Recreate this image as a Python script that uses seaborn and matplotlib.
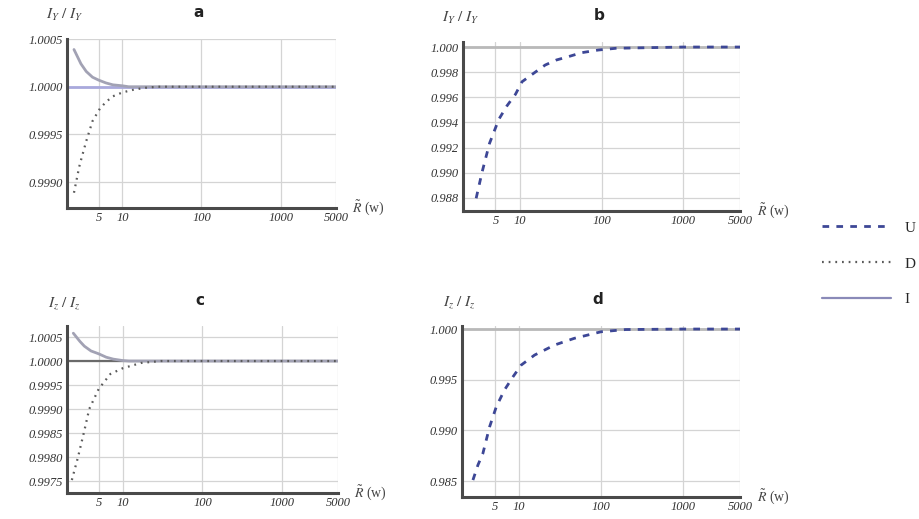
import matplotlib
matplotlib.use("Agg")
import matplotlib.pyplot as plt
import seaborn as sns
from matplotlib.lines import Line2D
from matplotlib.ticker import FixedLocator, FixedFormatter

sns.set_theme(style="white")
plt.rcParams["font.family"] = ["Liberation Serif", "DejaVu Serif"]
plt.rcParams["mathtext.fontset"] = "stix"

# ---- series data (R in units of w) ----
# panel a: I_Y ratio
a_dot_R = [2.45, 2.85, 3.0, 3.5, 4.2, 5.2, 6.2, 7.6, 10, 14, 20, 28, 100, 1000, 5000]
a_dot_v = [0.99889, 0.99916, 0.99923, 0.99943, 0.99964, 0.99977, 0.99984, 0.99990,
           0.99994, 0.99997, 0.99999, 1.00000, 1.00000, 1.00000, 1.00000]
a_sol_R = [2.45, 3.0, 3.5, 4.2, 5.0, 6.2, 7.6, 10, 12, 100, 1000, 5000]
a_sol_v = [1.00039, 1.00024, 1.00016, 1.00010, 1.00007, 1.00004, 1.00002, 1.00001,
           1.00000, 1.00000, 1.00000, 1.00000]

# panel b: I_Y ratio (dashed series)
b_R = [2.9, 3.19, 3.44, 4.23, 5.5, 6.9, 8.8, 10.6, 14.7, 20.4, 28, 39, 57, 91, 150, 1000, 5000]
b_v = [0.98797, 0.98916, 0.99009, 0.99234, 0.99425, 0.99531, 0.99624, 0.99724,
       0.99791, 0.99857, 0.99897, 0.99923, 0.99955, 0.99976, 0.99990, 1.00000, 1.00000]

# panel c: I_z ratio
c_dot_R = [2.3, 2.75, 3.3, 3.8, 5.0, 7.0, 10, 17, 30, 100, 1000, 5000]
c_dot_v = [0.99752, 0.99800, 0.99855, 0.99900, 0.99942, 0.99973, 0.99985, 0.99996,
           1.00000, 1.00000, 1.00000, 1.00000]
c_sol_R = [2.4, 2.9, 3.3, 4.0, 5.0, 6.2, 7.6, 10, 12, 100, 1000, 5000]
c_sol_v = [1.00058, 1.00041, 1.00031, 1.00021, 1.00015, 1.00008, 1.00004, 1.00001,
           1.00000, 1.00000, 1.00000, 1.00000]

# panel d: I_z ratio (dashed series)
d_R = [2.72, 3.13, 3.6, 4.35, 5.25, 6.6, 8.4, 10.6, 15.4, 27, 47, 100, 200, 1000, 5000]
d_v = [0.98510, 0.98658, 0.98773, 0.99036, 0.99233, 0.99398, 0.99529, 0.99645,
       0.99743, 0.99842, 0.99908, 0.99973, 0.99995, 1.00000, 1.00000]

x_ticks = [5, 10, 100, 1000, 5000]
x_labels = ["5", "10", "100", "1000", "5000"]
legend_labels = ["U", "D", "I"]

DASH_C = "#3d4796"
DOT_C = "#5a5a5a"
SOL_C = "#a2a2b4"
LEG_SOL_C = "#8a8ab8"
SPINE_C = "#4a4a4a"
GRID_C = "#d4d4d4"

fig = plt.figure(figsize=(9.2, 5.19), dpi=100)
W, H = 920, 519


def make_ax(l, r, t, b):
    return fig.add_axes([l / W, 1 - b / H, (r - l) / W, (b - t) / H])


def style_ax(ax, ylim, yticks, yfmt, one_color, one_lw):
    ax.set_xscale("log")
    ax.set_xlim(2.0, 5000)
    ax.set_ylim(*ylim)
    ax.xaxis.set_major_locator(FixedLocator(x_ticks))
    ax.xaxis.set_major_formatter(FixedFormatter(x_labels))
    ax.xaxis.set_minor_locator(FixedLocator([]))
    ax.set_yticks(yticks)
    ax.set_yticklabels([yfmt.format(v) for v in yticks])
    ax.tick_params(axis="both", length=0, labelsize=9, colors="#333333", pad=3)
    for lab in ax.get_xticklabels() + ax.get_yticklabels():
        lab.set_fontstyle("italic")
    ax.grid(True, color=GRID_C, lw=0.9)
    for s in ["top", "right"]:
        ax.spines[s].set_visible(False)
    for s in ["left", "bottom"]:
        ax.spines[s].set_color(SPINE_C)
        ax.spines[s].set_linewidth(2.2)
    ax.axhline(1.0, color=one_color, lw=one_lw, zorder=1)
    ax.set_xlabel("")
    ax.set_ylabel("")


def line(ax, R, v, **kw):
    sns.lineplot(x=R, y=v, ax=ax, legend=False, **kw)


# panel a
ax_a = make_ax(67, 336, 39, 208)
line(ax_a, a_sol_R, a_sol_v, color=SOL_C, lw=2.0)
line(ax_a, a_dot_R, a_dot_v, color=DOT_C, lw=1.6, linestyle=(0, (0.8, 2.2)))
style_ax(ax_a, (0.99873, 1.0005), [0.9990, 0.9995, 1.0000, 1.0005], "{:.4f}", "#a9a9dc", 2.0)

# panel b
ax_b = make_ax(463, 740, 42, 211)
line(ax_b, b_R, b_v, color=DASH_C, lw=2.0, linestyle=(0, (2.4, 2.6)))
style_ax(ax_b, (0.98696, 1.0004), [0.988, 0.990, 0.992, 0.994, 0.996, 0.998, 1.000],
         "{:.3f}", "#b9b9b9", 2.0)

# panel c
ax_c = make_ax(67, 338, 326, 493)
line(ax_c, c_sol_R, c_sol_v, color=SOL_C, lw=2.0)
line(ax_c, c_dot_R, c_dot_v, color=DOT_C, lw=1.6, linestyle=(0, (0.8, 2.2)))
style_ax(ax_c, (0.99725, 1.00073),
         [0.9975, 0.9980, 0.9985, 0.9990, 0.9995, 1.0000, 1.0005], "{:.4f}", "#6a6a6a", 1.6)

# panel d
ax_d = make_ax(462, 740, 326, 497)
line(ax_d, d_R, d_v, color=DASH_C, lw=2.0, linestyle=(0, (2.4, 2.6)))
style_ax(ax_d, (0.98343, 1.0003), [0.985, 0.990, 0.995, 1.000], "{:.3f}", "#b9b9b9", 2.0)

# titles, axis captions
for ax, letter, ylab in [(ax_a, "a", r"$I_Y\ /\ I_Y$"), (ax_b, "b", r"$I_Y\ /\ I_Y$"),
                         (ax_c, "c", r"$I_z\ /\ I_z$"), (ax_d, "d", r"$I_z\ /\ I_z$")]:
    ax.text(0.49, 1.155, letter, transform=ax.transAxes, ha="center", va="center",
            fontsize=11, fontweight="bold", family="DejaVu Sans", color="#222222")
    ax.text(-0.01, 1.14, ylab, transform=ax.transAxes, ha="center", va="center",
            fontsize=11, color="#444444")
    ax.text(1.06, 0.0, r"$\tilde{R}$ (w)", transform=ax.transAxes, ha="left",
            va="center", fontsize=10, color="#444444")

# legend at the right edge
handles = [
    Line2D([], [], color=DASH_C, lw=2.0, linestyle=(0, (2.4, 2.6))),
    Line2D([], [], color=DOT_C, lw=1.6, linestyle=(0, (0.8, 2.2))),
    Line2D([], [], color=LEG_SOL_C, lw=1.6),
]
fig.legend(handles, legend_labels, loc="upper left",
           bbox_to_anchor=(822 / W, 1 - 221 / H), frameon=False, fontsize=11,
           handlelength=4.5, handletextpad=0.9, labelspacing=1.45, borderpad=0,
           borderaxespad=0)

fig.savefig("out.png", dpi=100)
